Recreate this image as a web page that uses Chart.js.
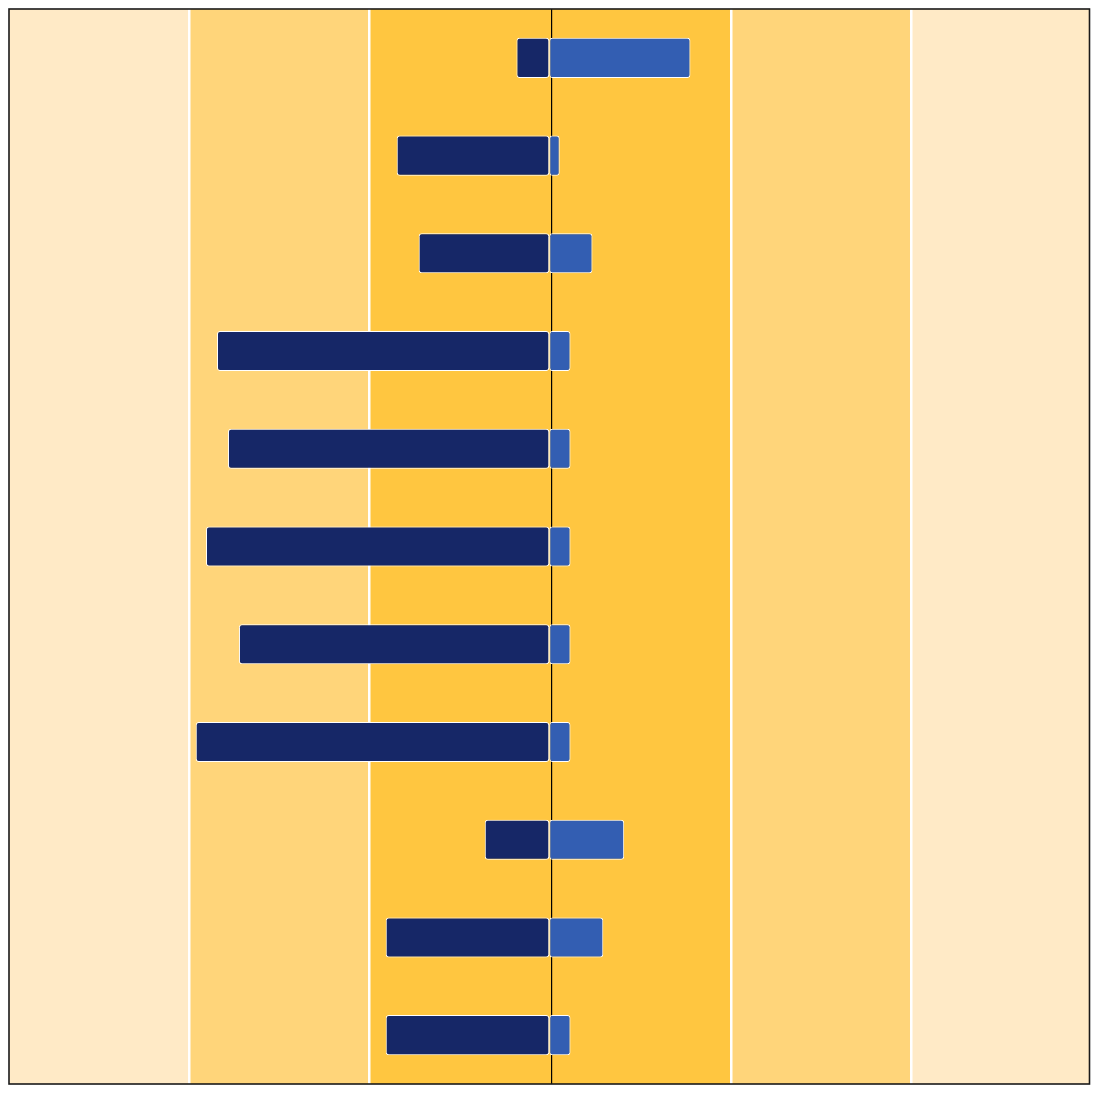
<!DOCTYPE html>
<html>
<head>
<meta charset="utf-8">
<script src="https://cdn.jsdelivr.net/npm/chart.js@4/dist/chart.umd.min.js"></script>
<style>
html,body{margin:0;padding:0;background:#ffffff;}
#wrap{width:1100px;height:1100px;}
</style>
</head>
<body>
<div id="wrap"><canvas id="c" width="1100" height="1100"></canvas></div>
<script>
const categories = ["Item 1","Item 2","Item 3","Item 4","Item 5","Item 6","Item 7","Item 8","Item 9","Item 10","Item 11"];
const negativeValues = [-0.182,-0.847,-0.725,-1.845,-1.784,-1.906,-1.723,-1.963,-0.358,-0.908,-0.908];
const positiveValues = [0.784,0.058,0.240,0.118,0.118,0.118,0.118,0.118,0.416,0.300,0.118];
const gridTicks = [-3,-2,-1,0.012,1.01,2.01,3];
const bandEdges = [-3,-2,-1,1.01,2.01,3];
const bandColors = ["#FFEAC6","#FFD57A","#FFC640","#FFD57A","#FFEAC6"];

const bandPlugin = {
  id:"bands",
  beforeDraw(chart){
    const {ctx, chartArea:a, scales:{x}} = chart;
    ctx.save();
    bandColors.forEach((col,i)=>{
      const x1 = x.getPixelForValue(bandEdges[i]), x2 = x.getPixelForValue(bandEdges[i+1]);
      ctx.fillStyle = col;
      ctx.fillRect(x1, a.top, x2-x1, a.bottom-a.top);
    });
    ctx.restore();
  },
  afterDraw(chart){
    const {ctx, chartArea:a} = chart;
    ctx.save();
    ctx.strokeStyle = "#1a1a1a";
    ctx.lineWidth = 1.6;
    ctx.strokeRect(a.left, a.top, a.right-a.left, a.bottom-a.top);
    ctx.restore();
  }
};

new Chart(document.getElementById("c"), {
  type:"bar",
  data:{
    labels:categories,
    datasets:[
      {data:negativeValues, backgroundColor:"#162767", borderColor:"#ffffff", borderWidth:1, borderRadius:3, borderSkipped:false, barPercentage:0.41, categoryPercentage:1},
      {data:positiveValues, backgroundColor:"#335EB2", borderColor:"#ffffff", borderWidth:1, borderRadius:3, borderSkipped:false, barPercentage:0.41, categoryPercentage:1}
    ]
  },
  options:{
    indexAxis:"y",
    responsive:false,
    animation:false,
    layout:{padding:{left:9,right:10.5,top:9,bottom:16}},
    plugins:{legend:{display:false},tooltip:{enabled:false}},
    scales:{
      x:{
        stacked:true, min:-3, max:3,
        afterBuildTicks(s){ s.ticks = gridTicks.map(v=>({value:v})); },
        ticks:{display:false},
        border:{display:false},
        grid:{
          drawTicks:false,
          color:(c)=> {
            const v = c.tick ? c.tick.value : 3;
            if (Math.abs(v) >= 3) return "rgba(0,0,0,0)";
            return Math.abs(v) < 0.5 ? "#000000" : "#ffffff";
          },
          lineWidth:(c)=> c.tick && Math.abs(c.tick.value) < 0.5 ? 1.2 : 2.5
        },
        afterFit(s){ s.height = 0; }
      },
      y:{
        stacked:true,
        display:true,
        ticks:{display:false},
        grid:{display:false},
        border:{display:false},
        afterFit(s){ s.width = 0; }
      }
    }
  },
  plugins:[bandPlugin]
});
</script>
</body>
</html>
